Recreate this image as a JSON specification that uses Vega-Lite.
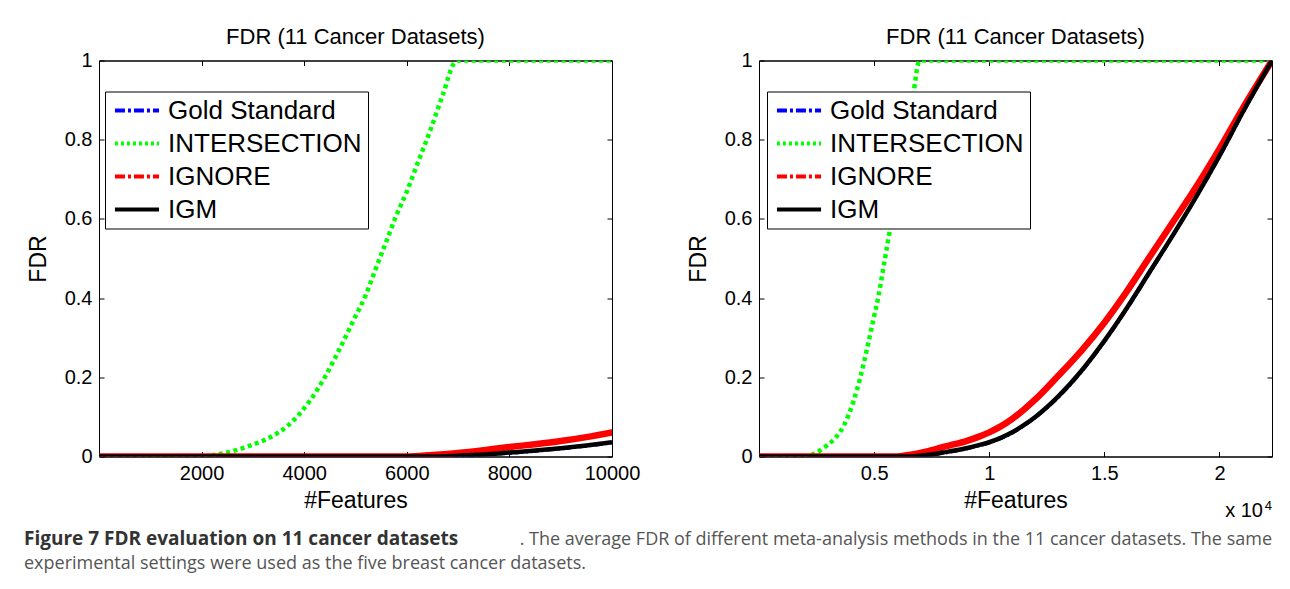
{
  "$schema": "https://vega.github.io/schema/vega-lite/v6.json",
  "background": "white",
  "padding": {"left": 24, "top": 24.5, "right": 5, "bottom": 5},
  "datasets": {
    "curves": [
      {"m": "Gold Standard", "f": 0, "v": 0}, {"m": "Gold Standard", "f": 2000, "v": 0}, {"m": "Gold Standard", "f": 4000, "v": 0}, {"m": "Gold Standard", "f": 6000, "v": 0}, {"m": "Gold Standard", "f": 6500, "v": 0}, {"m": "Gold Standard", "f": 7000, "v": 0.001}, {"m": "Gold Standard", "f": 7500, "v": 0.004}, {"m": "Gold Standard", "f": 8000, "v": 0.008}, {"m": "Gold Standard", "f": 8500, "v": 0.013}, {"m": "Gold Standard", "f": 9000, "v": 0.019}, {"m": "Gold Standard", "f": 9500, "v": 0.026}, {"m": "Gold Standard", "f": 10000, "v": 0.034}, {"m": "Gold Standard", "f": 10500, "v": 0.045}, {"m": "Gold Standard", "f": 11000, "v": 0.059}, {"m": "Gold Standard", "f": 11500, "v": 0.077}, {"m": "Gold Standard", "f": 12000, "v": 0.098}, {"m": "Gold Standard", "f": 13000, "v": 0.149}, {"m": "Gold Standard", "f": 14000, "v": 0.213}, {"m": "Gold Standard", "f": 15000, "v": 0.289}, {"m": "Gold Standard", "f": 16000, "v": 0.374}, {"m": "Gold Standard", "f": 17000, "v": 0.466}, {"m": "Gold Standard", "f": 18000, "v": 0.559}, {"m": "Gold Standard", "f": 19000, "v": 0.655}, {"m": "Gold Standard", "f": 20000, "v": 0.756}, {"m": "Gold Standard", "f": 21000, "v": 0.865}, {"m": "Gold Standard", "f": 22283, "v": 1},
      {"m": "INTERSECTION", "f": 0, "v": 0}, {"m": "INTERSECTION", "f": 1000, "v": 0}, {"m": "INTERSECTION", "f": 2000, "v": 0}, {"m": "INTERSECTION", "f": 2200, "v": 0.003}, {"m": "INTERSECTION", "f": 2500, "v": 0.01}, {"m": "INTERSECTION", "f": 2800, "v": 0.021}, {"m": "INTERSECTION", "f": 3000, "v": 0.03}, {"m": "INTERSECTION", "f": 3300, "v": 0.046}, {"m": "INTERSECTION", "f": 3700, "v": 0.08}, {"m": "INTERSECTION", "f": 4100, "v": 0.139}, {"m": "INTERSECTION", "f": 4400, "v": 0.2}, {"m": "INTERSECTION", "f": 4700, "v": 0.274}, {"m": "INTERSECTION", "f": 4950, "v": 0.341}, {"m": "INTERSECTION", "f": 5200, "v": 0.408}, {"m": "INTERSECTION", "f": 5400, "v": 0.476}, {"m": "INTERSECTION", "f": 5600, "v": 0.543}, {"m": "INTERSECTION", "f": 5800, "v": 0.61}, {"m": "INTERSECTION", "f": 6000, "v": 0.669}, {"m": "INTERSECTION", "f": 6200, "v": 0.737}, {"m": "INTERSECTION", "f": 6450, "v": 0.821}, {"m": "INTERSECTION", "f": 6700, "v": 0.913}, {"m": "INTERSECTION", "f": 6950, "v": 0.997}, {"m": "INTERSECTION", "f": 7050, "v": 1}, {"m": "INTERSECTION", "f": 8000, "v": 1}, {"m": "INTERSECTION", "f": 10000, "v": 1}, {"m": "INTERSECTION", "f": 15000, "v": 1}, {"m": "INTERSECTION", "f": 22283, "v": 1},
      {"m": "IGNORE", "f": 0, "v": 0}, {"m": "IGNORE", "f": 2000, "v": 0}, {"m": "IGNORE", "f": 4000, "v": 0}, {"m": "IGNORE", "f": 6000, "v": 0}, {"m": "IGNORE", "f": 6500, "v": 0.004}, {"m": "IGNORE", "f": 7000, "v": 0.009}, {"m": "IGNORE", "f": 7500, "v": 0.016}, {"m": "IGNORE", "f": 8000, "v": 0.024}, {"m": "IGNORE", "f": 8500, "v": 0.031}, {"m": "IGNORE", "f": 9000, "v": 0.039}, {"m": "IGNORE", "f": 9500, "v": 0.049}, {"m": "IGNORE", "f": 10000, "v": 0.061}, {"m": "IGNORE", "f": 10500, "v": 0.076}, {"m": "IGNORE", "f": 11000, "v": 0.095}, {"m": "IGNORE", "f": 11500, "v": 0.118}, {"m": "IGNORE", "f": 12000, "v": 0.144}, {"m": "IGNORE", "f": 13000, "v": 0.204}, {"m": "IGNORE", "f": 14000, "v": 0.267}, {"m": "IGNORE", "f": 15000, "v": 0.338}, {"m": "IGNORE", "f": 16000, "v": 0.419}, {"m": "IGNORE", "f": 17000, "v": 0.507}, {"m": "IGNORE", "f": 18000, "v": 0.594}, {"m": "IGNORE", "f": 19000, "v": 0.682}, {"m": "IGNORE", "f": 20000, "v": 0.777}, {"m": "IGNORE", "f": 21000, "v": 0.878}, {"m": "IGNORE", "f": 22283, "v": 1},
      {"m": "IGM", "f": 0, "v": 0}, {"m": "IGM", "f": 2000, "v": 0}, {"m": "IGM", "f": 4000, "v": 0}, {"m": "IGM", "f": 6000, "v": 0}, {"m": "IGM", "f": 6500, "v": 0}, {"m": "IGM", "f": 7000, "v": 0.002}, {"m": "IGM", "f": 7500, "v": 0.005}, {"m": "IGM", "f": 8000, "v": 0.01}, {"m": "IGM", "f": 8500, "v": 0.015}, {"m": "IGM", "f": 9000, "v": 0.021}, {"m": "IGM", "f": 9500, "v": 0.028}, {"m": "IGM", "f": 10000, "v": 0.036}, {"m": "IGM", "f": 10500, "v": 0.047}, {"m": "IGM", "f": 11000, "v": 0.061}, {"m": "IGM", "f": 11500, "v": 0.079}, {"m": "IGM", "f": 12000, "v": 0.1}, {"m": "IGM", "f": 13000, "v": 0.152}, {"m": "IGM", "f": 14000, "v": 0.216}, {"m": "IGM", "f": 15000, "v": 0.292}, {"m": "IGM", "f": 16000, "v": 0.377}, {"m": "IGM", "f": 17000, "v": 0.469}, {"m": "IGM", "f": 18000, "v": 0.561}, {"m": "IGM", "f": 19000, "v": 0.657}, {"m": "IGM", "f": 20000, "v": 0.759}, {"m": "IGM", "f": 21000, "v": 0.868}, {"m": "IGM", "f": 22283, "v": 1}
    ],
    "caption": [
      {"part": "bold", "t": "Figure 7 FDR evaluation on 11 cancer datasets"},
      {"part": "line1", "t": ". The average FDR of different meta-analysis methods in the 11 cancer datasets. The same"},
      {"part": "line2", "t": "experimental settings were used as the five breast cancer datasets."}
    ]
  },
  "vconcat": [
    {
      "hconcat": [
        {
          "width": 513,
          "height": 396,
          "title": {"text": "FDR (11 Cancer Datasets)", "anchor": "middle", "fontSize": 22, "fontWeight": "normal", "font": "Liberation Sans", "color": "black", "offset": 2},
          "layer": [
            {
              "encoding": {
                "x": {"field": "f", "type": "quantitative", "scale": {"domain": [0, 10000], "nice": false, "zero": false},
                  "axis": {"orient": "bottom", "values": [2000, 4000, 6000, 8000, 10000], "format": "d", "title": "#Features"}},
                "y": {"field": "v", "type": "quantitative", "scale": {"domain": [0, 1], "nice": false},
                  "axis": {"orient": "left", "values": [0, 0.2, 0.4, 0.6, 0.8, 1], "format": "~g", "title": "FDR"}},
                "color": {"field": "m", "type": "nominal",
                  "scale": {"domain": ["Gold Standard", "INTERSECTION", "IGNORE", "IGM"], "range": ["#0000ff", "#00ff00", "#ff0000", "#000000"]},
                  "legend": {"orient": "none", "legendX": 6, "legendY": 31,
                    "encode": {"symbols": {"update": {"strokeDash": {"signal": "datum.value === 'INTERSECTION' ? [3, 3] : datum.value === 'IGM' ? [1, 0] : [10, 3, 3, 3]"}}}}}}
              },
              "layer": [
                {"data": {"name": "curves"}, "transform": [{"filter": "datum.m === 'Gold Standard' && datum.f <= 10000"}],
                  "mark": {"type": "line", "strokeWidth": 3, "strokeDash": [8, 3, 2, 3], "interpolate": "monotone", "clip": true}},
                {"data": {"name": "curves"}, "transform": [{"filter": "datum.m === 'INTERSECTION' && datum.f <= 10000"}],
                  "mark": {"type": "line", "strokeWidth": 4.5, "strokeDash": [4, 3.5], "interpolate": "monotone", "clip": true}},
                {"data": {"name": "curves"}, "transform": [{"filter": "datum.m === 'IGNORE' && datum.f <= 10000"}],
                  "mark": {"type": "line", "strokeWidth": 6.5, "strokeCap": "round", "interpolate": "monotone", "clip": true}},
                {"data": {"name": "curves"}, "transform": [{"filter": "datum.m === 'IGM' && datum.f <= 10000"}],
                  "mark": {"type": "line", "strokeWidth": 4.5, "interpolate": "monotone", "clip": true}}
              ]
            },
            {
              "data": {"name": "curves"},
              "transform": [{"filter": "datum.f <= 10000"}],
              "mark": {"type": "point", "opacity": 0},
              "encoding": {
                "x": {"field": "f", "type": "quantitative", "scale": {"domain": [0, 10000], "nice": false, "zero": false},
                  "axis": {"orient": "top", "values": [2000, 4000, 6000, 8000, 10000], "labels": false, "title": null}},
                "y": {"field": "v", "type": "quantitative", "scale": {"domain": [0, 1], "nice": false},
                  "axis": {"orient": "right", "values": [0, 0.2, 0.4, 0.6, 0.8, 1], "labels": false, "title": null}}
              }
            }
          ],
          "resolve": {"axis": {"x": "independent", "y": "independent"}}
        },
        {
          "width": 513,
          "height": 396,
          "title": {"text": "FDR (11 Cancer Datasets)", "anchor": "middle", "fontSize": 22, "fontWeight": "normal", "font": "Liberation Sans", "color": "black", "offset": 2},
          "layer": [
            {
              "encoding": {
                "x": {"field": "f", "type": "quantitative", "scale": {"domain": [0, 22283], "nice": false, "zero": false},
                  "axis": {"orient": "bottom", "values": [5000, 10000, 15000, 20000], "labelExpr": "format(datum.value / 10000, '~g')", "title": "#Features"}},
                "y": {"field": "v", "type": "quantitative", "scale": {"domain": [0, 1], "nice": false},
                  "axis": {"orient": "left", "values": [0, 0.2, 0.4, 0.6, 0.8, 1], "format": "~g", "title": "FDR"}},
                "color": {"field": "m", "type": "nominal",
                  "scale": {"domain": ["Gold Standard", "INTERSECTION", "IGNORE", "IGM"], "range": ["#0000ff", "#00ff00", "#ff0000", "#000000"]},
                  "legend": {"orient": "none", "legendX": 8, "legendY": 31,
                    "encode": {"symbols": {"update": {"strokeDash": {"signal": "datum.value === 'INTERSECTION' ? [3, 3] : datum.value === 'IGM' ? [1, 0] : [10, 3, 3, 3]"}}}}}}
              },
              "layer": [
                {"data": {"name": "curves"}, "transform": [{"filter": "datum.m === 'Gold Standard'"}],
                  "mark": {"type": "line", "strokeWidth": 3, "strokeDash": [8, 3, 2, 3], "interpolate": "monotone", "clip": true}},
                {"data": {"name": "curves"}, "transform": [{"filter": "datum.m === 'INTERSECTION'"}],
                  "mark": {"type": "line", "strokeWidth": 4.5, "strokeDash": [4, 3.5], "interpolate": "monotone", "clip": true}},
                {"data": {"name": "curves"}, "transform": [{"filter": "datum.m === 'IGNORE'"}],
                  "mark": {"type": "line", "strokeWidth": 6.5, "strokeCap": "round", "interpolate": "monotone", "clip": true}},
                {"data": {"name": "curves"}, "transform": [{"filter": "datum.m === 'IGM'"}],
                  "mark": {"type": "line", "strokeWidth": 4.5, "interpolate": "monotone", "clip": true}}
              ]
            },
            {
              "data": {"name": "curves"},
              "mark": {"type": "point", "opacity": 0},
              "encoding": {
                "x": {"field": "f", "type": "quantitative", "scale": {"domain": [0, 22283], "nice": false, "zero": false},
                  "axis": {"orient": "top", "values": [5000, 10000, 15000, 20000], "labels": false, "title": null}},
                "y": {"field": "v", "type": "quantitative", "scale": {"domain": [0, 1], "nice": false},
                  "axis": {"orient": "right", "values": [0, 0.2, 0.4, 0.6, 0.8, 1], "labels": false, "title": null}}
              }
            },
            {"data": {"values": [{"label": "x 10"}]},
              "mark": {"type": "text", "align": "right", "baseline": "alphabetic", "dx": -9, "dy": 60.5, "fontSize": 20, "font": "Liberation Sans", "color": "black"},
              "encoding": {"x": {"datum": 22283, "type": "quantitative", "axis": null}, "y": {"datum": 0, "type": "quantitative", "axis": null}, "text": {"field": "label"}}},
            {"data": {"values": [{"label": "4"}]},
              "mark": {"type": "text", "align": "right", "baseline": "alphabetic", "dx": 0, "dy": 53, "fontSize": 13, "font": "Liberation Sans", "color": "black"},
              "encoding": {"x": {"datum": 22283, "type": "quantitative", "axis": null}, "y": {"datum": 0, "type": "quantitative", "axis": null}, "text": {"field": "label"}}}
          ],
          "resolve": {"axis": {"x": "independent", "y": "independent"}}
        }
      ],
      "spacing": 45,
      "resolve": {"legend": {"color": "independent"}}
    },
    {
      "width": 1170,
      "height": 45,
      "view": {"stroke": null},
      "data": {"name": "caption"},
      "layer": [
        {"transform": [{"filter": "datum.part === 'bold'"}],
          "mark": {"type": "text", "align": "left", "baseline": "alphabetic", "x": -75, "y": 15.5, "font": "Open Sans", "fontSize": 19, "fontWeight": "bold", "color": "#333333"},
          "encoding": {"text": {"field": "t"}}},
        {"transform": [{"filter": "datum.part === 'line1'"}],
          "mark": {"type": "text", "align": "right", "baseline": "alphabetic", "x": 1173, "y": 15.5, "font": "Open Sans", "fontSize": 18, "color": "#555555"},
          "encoding": {"text": {"field": "t"}}},
        {"transform": [{"filter": "datum.part === 'line2'"}],
          "mark": {"type": "text", "align": "left", "baseline": "alphabetic", "x": -75, "y": 39.5, "font": "Open Sans", "fontSize": 18, "color": "#555555"},
          "encoding": {"text": {"field": "t"}}}
      ]
    }
  ],
  "spacing": 8,
  "config": {
    "font": "Liberation Sans",
    "view": {"stroke": "black", "strokeWidth": 1},
    "axis": {
      "grid": false,
      "domainColor": "black",
      "domainWidth": 1,
      "tickColor": "black",
      "tickSize": -5,
      "labelFont": "Liberation Sans",
      "labelFontSize": 20,
      "labelColor": "black",
      "labelPadding": 12,
      "labelFlush": false,
      "labelOverlap": false,
      "titleFont": "Liberation Sans",
      "titleFontSize": 23,
      "titleFontWeight": "normal",
      "titleColor": "black"
    },
    "axisY": {"titlePadding": 14},
    "axisX": {"titlePadding": 6},
    "legend": {
      "title": null,
      "strokeColor": "black",
      "fillColor": "white",
      "padding": 6,
      "cornerRadius": 0,
      "symbolType": "M-3,0H3",
      "symbolSize": 216,
      "symbolStrokeWidth": 4,
      "symbolOffset": 13,
      "symbolFillColor": "transparent",
      "labelOffset": 18,
      "labelFont": "Liberation Sans",
      "labelFontSize": 26,
      "labelColor": "black",
      "labelLimit": 400,
      "rowPadding": 7
    }
  }
}
